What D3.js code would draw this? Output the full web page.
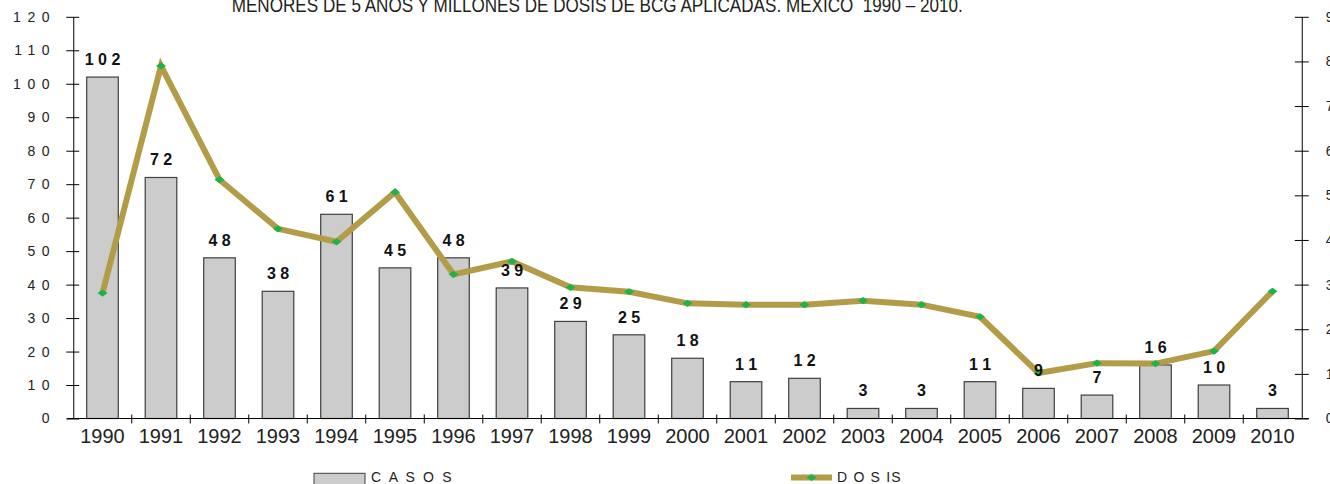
<html>
    <head>
        <script src="https://d3js.org/d3.v7.min.js"></script>
        <style>
            body { margin: 0; background: #fff; }
            text { font-family: "Liberation Sans", Arial, sans-serif; fill: #222; }
            .axis .domain { stroke: #000; }
            .axis line { stroke: #000; }
        </style>
    </head>
    <body>
        <svg id="chart" width="1330" height="484"></svg>

        <script>
            // data
            const years = ["1990","1991","1992","1993","1994","1995","1996","1997","1998","1999","2000",
                           "2001","2002","2003","2004","2005","2006","2007","2008","2009","2010"];
            const casos = [102, 72, 48, 38, 61, 45, 48, 39, 29, 25, 18, 11, 12, 3, 3, 11, 9, 7, 16, 10, 3];
            const dosis = [2.81, 7.90, 5.35, 4.25, 3.96, 5.07, 3.23, 3.52, 2.94, 2.84, 2.58,
                           2.55, 2.55, 2.64, 2.55, 2.28, 1.02, 1.24, 1.23, 1.51, 2.85];
            const leftTicks = [0, 10, 20, 30, 40, 50, 60, 70, 80, 90, 100, 110, 120];
            const rightTicks = [0, 1, 2, 3, 4, 5, 6, 7, 8, 9];
            const title = "MENORES DE 5 AÑOS Y MILLONES DE DOSIS DE BCG APLICADAS. MÉXICO  1990 – 2010.";

            const svg = d3.select("#chart");
            const margin = {top: 16.8, right: 28.25, bottom: 65.5, left: 73.25};
            const width = +svg.attr("width");
            const height = +svg.attr("height");
            const plotW = width - margin.left - margin.right;
            const plotH = height - margin.top - margin.bottom;

            const area = svg.append("g")
                .attr("transform", `translate(${margin.left},${margin.top})`);

            const x = d3.scaleBand().domain(years).range([0, plotW]).padding(0);
            const yL = d3.scaleLinear().domain([0, 120]).range([plotH, 0]);
            const yR = d3.scaleLinear().domain([0, 9]).range([plotH, 0]);
            const barW = x.bandwidth() * 0.54;

            // title (its top is cut by the page edge in the original)
            svg.append("text")
                .attr("x", 231.7)
                .attr("y", 12)
                .attr("textLength", 731)
                .attr("lengthAdjust", "spacingAndGlyphs")
                .style("white-space", "pre")
                .style("font-size", "21px")
                .style("fill", "#231f20")
                .text(title);

            // bars
            area.selectAll("rect.bar").data(casos)
                .join("rect")
                .attr("class", "bar")
                .attr("x", (d, i) => x(years[i]) + (x.bandwidth() - barW) / 2)
                .attr("y", d => yL(d))
                .attr("width", barW)
                .attr("height", d => yL(0) - yL(d))
                .attr("fill", "#cccccc")
                .attr("stroke", "#404040")
                .attr("stroke-width", 1.2);

            // left axis
            const leftAxis = area.append("g").attr("class", "axis")
                .call(d3.axisLeft(yL).tickValues(leftTicks).tickSize(7).tickSizeOuter(0).tickPadding(10));
            leftAxis.selectAll(".tick line").attr("x1", 6);
            leftAxis.selectAll(".tick text")
                .style("font-size", "14px")
                .style("letter-spacing", "6.6px")
                .attr("fill", "#111");

            // right axis (labels run off the page edge, as in the original)
            const rightAxis = area.append("g").attr("class", "axis")
                .attr("transform", `translate(${plotW},0)`)
                .call(d3.axisRight(yR).tickValues(rightTicks).tickSize(7).tickSizeOuter(0).tickPadding(17));
            rightAxis.selectAll(".tick line").attr("x1", -7);
            rightAxis.selectAll(".tick text")
                .style("font-size", "14px")
                .attr("fill", "#111");

            // bottom axis
            const bottomAxis = area.append("g").attr("class", "axis")
                .attr("transform", `translate(0,${plotH})`)
                .call(d3.axisBottom(x).tickSize(0).tickPadding(10.3));
            bottomAxis.select(".domain").attr("d", `M${-6},0H${plotW + 7}`);
            bottomAxis.selectAll(".tick text")
                .style("font-size", "20px")
                .attr("fill", "#222");
            bottomAxis.selectAll("line.sep").data(years.slice(1))
                .join("line")
                .attr("class", "sep")
                .attr("x1", d => x(d)).attr("x2", d => x(d))
                .attr("y1", -4).attr("y2", 5)
                .attr("stroke", "#000");

            // dosis line
            const line = d3.line()
                .x((d, i) => x(years[i]) + x.bandwidth() / 2)
                .y(d => yR(d));

            area.append("path")
                .datum(dosis)
                .attr("d", line)
                .attr("fill", "none")
                .attr("stroke", "#b39c48")
                .attr("stroke-width", 6)
                .attr("stroke-linejoin", "miter");

            const diamond = "M-5,0L0,-3.6L5,0L0,3.6Z";
            area.selectAll("path.marker").data(dosis)
                .join("path")
                .attr("class", "marker")
                .attr("transform", (d, i) => `translate(${x(years[i]) + x.bandwidth() / 2},${yR(d)})`)
                .attr("d", diamond)
                .attr("fill", "#1db34a");

            // bar labels
            area.selectAll("text.lbl").data(casos)
                .join("text")
                .attr("class", "lbl")
                .attr("x", (d, i) => x(years[i]) + x.bandwidth() / 2)
                .attr("y", d => yL(d) - 12)
                .attr("text-anchor", "middle")
                .style("font-size", "16px")
                .style("font-weight", "bold")
                .style("fill", "#111")
                .text(d => String(d).split("").join(" "));

            // legend
            const legend = svg.append("g");
            legend.append("rect")
                .attr("x", 314).attr("y", 473.3)
                .attr("width", 51).attr("height", 16)
                .attr("fill", "#cccccc").attr("stroke", "#404040");
            legend.append("text")
                .attr("x", 371).attr("y", 482)
                .style("font-size", "14px")
                .style("letter-spacing", "2.2px")
                .style("white-space", "pre")
                .text("C A S O S");

            legend.append("line")
                .attr("x1", 791).attr("x2", 832)
                .attr("y1", 477.5).attr("y2", 477.5)
                .attr("stroke", "#b39c48").attr("stroke-width", 6);
            legend.append("path")
                .attr("transform", "translate(811.5,477.5)")
                .attr("d", diamond)
                .attr("fill", "#1db34a");
            legend.append("text")
                .attr("x", 837).attr("y", 482)
                .style("font-size", "14px")
                .style("letter-spacing", "1.2px")
                .style("white-space", "pre")
                .text("D O S IS");
        </script>
    </body>
</html>
